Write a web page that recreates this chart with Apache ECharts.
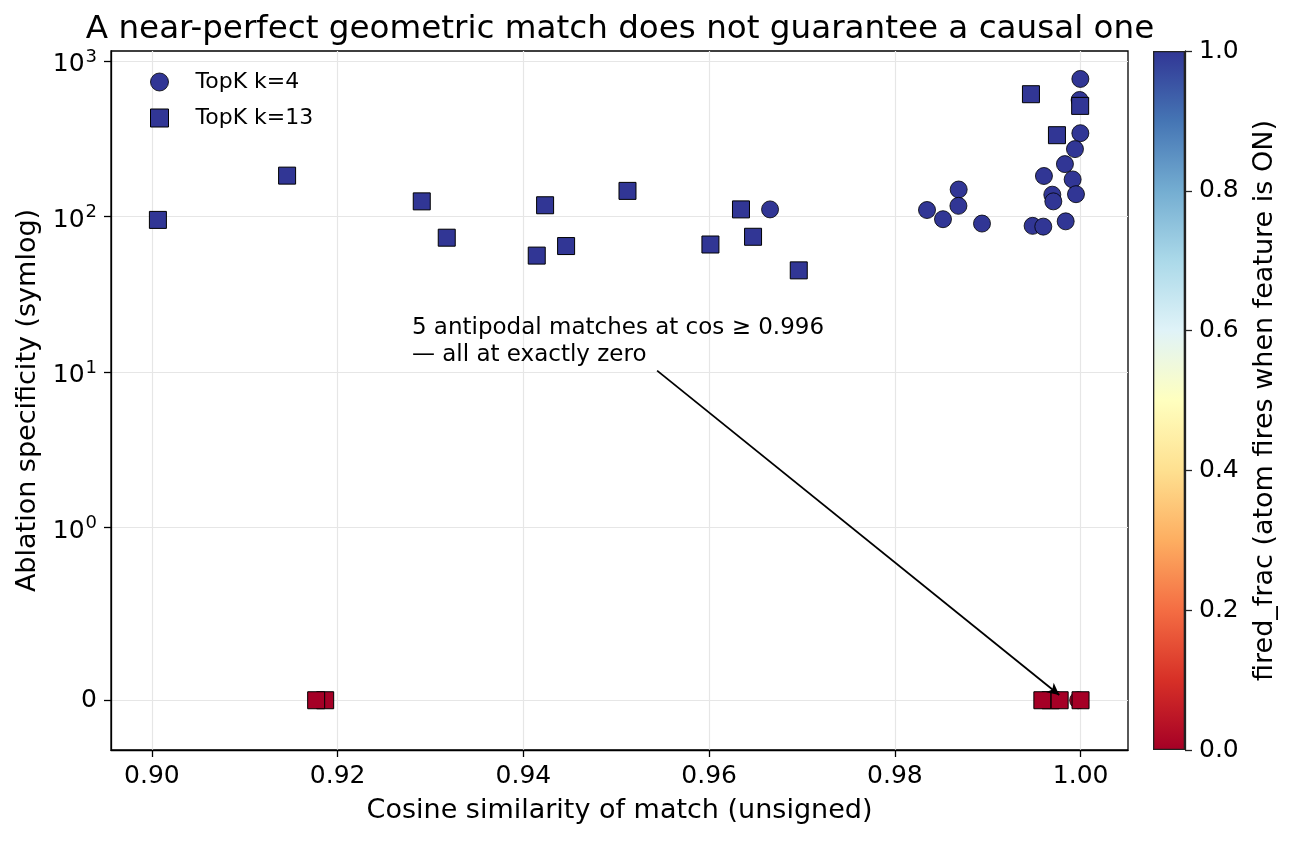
<!DOCTYPE html>
<html>
<head>
<meta charset="utf-8">
<script src="https://cdn.jsdelivr.net/npm/echarts@6/dist/echarts.min.js"></script>
<style>
  html, body { margin: 0; padding: 0; background: #fff; }
  #chart { width: 1294px; height: 841px; }
</style>
</head>
<body>
<div id="chart"></div>
<script>
// TopK k=4 matches: cosine, ablation specificity, fired_frac
var k4Cos   = [0.99997, 0.99989, 0.99997, 0.99939, 0.99831, 0.99605, 0.99914, 0.99695, 0.99706, 0.99950,
               0.98687, 0.98684, 0.98346, 0.98518, 0.98938, 0.99483, 0.99598, 0.99839, 0.96656, 0.99973];
var k4Spec  = [766, 561, 343, 271, 217, 182, 173, 138, 125, 139,
               149, 117, 110, 96, 90, 87, 86, 93, 111, 0];
var k4Fired = [1, 1, 1, 1, 1, 1, 1, 1, 1, 1,
               1, 1, 1, 1, 1, 1, 1, 1, 1, 0];

// TopK k=13 matches
var k13Cos   = [0.99465, 0.99995, 0.99745, 0.90065, 0.91456, 0.92906, 0.93175, 0.94234, 0.94144, 0.94460,
                0.95121, 0.96343, 0.96014, 0.96473, 0.96965,
                0.91866, 0.91769, 0.99677, 0.99588, 0.99774, 0.99999];
var k13Spec  = [611, 514, 333, 95, 183, 125, 73, 118, 56, 64.5,
                146, 111, 66, 74, 45,
                0, 0, 0, 0, 0, 0];
var k13Fired = [1, 1, 1, 1, 1, 1, 1, 1, 1, 1,
                1, 1, 1, 1, 1,
                0, 0, 0, 0, 0, 0];

var xTicks = [0.90, 0.92, 0.94, 0.96, 0.98, 1.00];
var yTickValues = [0, 1, 10, 100, 1000];
var yTickLabels = ['0', '{b|10}{s|0}', '{b|10}{s|1}', '{b|10}{s|2}', '{b|10}{s|3}'];
var cbarTicks = [0, 0.2, 0.4, 0.6, 0.8, 1.0];

// annotation: text anchor and arrow target (data units)
var noteText = '5 antipodal matches at cos \u2265 0.996\n\u2014 all at exactly zero';
var noteXY = [0.928, 12];
var arrowFrom = [0.9544, 10.2];
var arrowTo = [0.9977, 0.03];

var rdylbu = ['#a50026', '#d73027', '#f46d43', '#fdae61', '#fee090', '#ffffbf',
              '#e0f3f8', '#abd9e9', '#74add1', '#4575b4', '#313695'];

// matplotlib symlog, base 10, linthresh 1, linscale 1
var LINSCALE = 1 / (1 - 1 / 10);
function symlog(v) {
  var a = Math.abs(v);
  var t = a <= 1 ? a * LINSCALE : LINSCALE + Math.log10(a);
  return v < 0 ? -t : t;
}

function buildPoints(cos, spec, fired) {
  var out = [];
  for (var i = 0; i < cos.length; i++) {
    out.push([cos[i], symlog(spec[i]), fired[i]]);
  }
  return out;
}

var yTickT = yTickValues.map(symlog);
var FONT = 'DejaVu Sans';
var axisColor = '#000';

var option = {
  animation: false,
  textStyle: { fontFamily: FONT, color: '#000' },
  title: {
    text: 'A near-perfect geometric match does not guarantee a causal one',
    left: 615,
    textAlign: 'center',
    top: 8,
    textStyle: { fontFamily: FONT, fontSize: 32.6, fontWeight: 'normal', color: '#000' }
  },
  legend: {
    orient: 'vertical',
    left: 145,
    top: 66,
    itemWidth: 18,
    itemHeight: 18,
    itemGap: 14,
    textStyle: { fontSize: 22, color: '#000', padding: [0, 0, 0, 22] },
    data: [
      { name: 'TopK k=4', icon: 'circle', itemStyle: { color: '#313695', borderColor: '#000', borderWidth: 0.8 } },
      { name: 'TopK k=13', icon: 'rect', itemStyle: { color: '#313695', borderColor: '#000', borderWidth: 1 } }
    ]
  },
  visualMap: {
    type: 'continuous',
    show: false,
    min: 0,
    max: 1,
    dimension: 2,
    seriesIndex: [0, 1],
    inRange: { color: rdylbu }
  },
  grid: [
    { left: 111, right: 166, top: 51, bottom: 91, show: true, borderColor: axisColor, borderWidth: 1.3 },
    { left: 1153, width: 32, top: 51, bottom: 91 }
  ],
  xAxis: [
    {
      type: 'value',
      gridIndex: 0,
      min: 0.8956,
      max: 1.0051,
      name: 'Cosine similarity of match (unsigned)',
      nameLocation: 'middle',
      nameGap: 47,
      nameTextStyle: { fontSize: 27, color: '#000' },
      axisLine: { show: true, onZero: false, lineStyle: { color: axisColor, width: 1.3 } },
      axisTick: { show: true, length: 7, customValues: xTicks, lineStyle: { color: axisColor, width: 1.3 } },
      axisLabel: { customValues: xTicks, fontSize: 25, color: '#000', margin: 14,
                   formatter: function (v) { return v.toFixed(2); } },
      splitLine: { show: true, lineStyle: { color: '#e6e6e6', width: 1.2 } }
    },
    {
      type: 'category',
      gridIndex: 1,
      data: ['c'],
      show: false
    }
  ],
  yAxis: [
    {
      type: 'value',
      gridIndex: 0,
      min: -0.32,
      max: 4.175,
      name: 'Ablation specificity (symlog)',
      nameLocation: 'middle',
      nameGap: 64,
      nameTextStyle: { fontSize: 27, color: '#000' },
      axisLine: { show: true, onZero: false, lineStyle: { color: axisColor, width: 1.3 } },
      axisTick: { show: true, length: 7, customValues: yTickT, lineStyle: { color: axisColor, width: 1.3 } },
      axisLabel: {
        customValues: yTickT, fontSize: 25, color: '#000', margin: 14,
        rich: {
          b: { fontSize: 25, color: '#000', fontFamily: FONT, padding: [8, 0, 0, 0] },
          s: { fontSize: 18, color: '#000', fontFamily: FONT, padding: [0, 0, 8, 1] }
        },
        formatter: function (v) {
          var best = 0;
          for (var i = 1; i < yTickT.length; i++) {
            if (Math.abs(yTickT[i] - v) < Math.abs(yTickT[best] - v)) best = i;
          }
          return yTickLabels[best];
        }
      },
      splitLine: { show: true, lineStyle: { color: '#e6e6e6', width: 1.2 } }
    },
    {
      type: 'value',
      gridIndex: 1,
      position: 'right',
      min: 0,
      max: 1,
      interval: 0.2,
      name: 'fired_frac (atom fires when feature is ON)',
      nameLocation: 'middle',
      nameRotate: 90,
      nameGap: 66,
      nameTextStyle: { fontSize: 27, color: '#000' },
      axisLine: { show: true, lineStyle: { color: '#222', width: 1.3 } },
      axisTick: { show: true, length: 7, lineStyle: { color: '#222', width: 1.3 } },
      axisLabel: { fontSize: 25, color: '#000', margin: 14,
                   formatter: function (v) { return v.toFixed(1); } },
      splitLine: { show: false }
    }
  ],
  series: [
    {
      name: 'TopK k=4',
      type: 'scatter',
      xAxisIndex: 0,
      yAxisIndex: 0,
      symbol: 'circle',
      symbolSize: 17,
      itemStyle: { borderColor: '#000', borderWidth: 0.8, opacity: 1 },
      emphasis: { disabled: true },
      data: buildPoints(k4Cos, k4Spec, k4Fired),
      markLine: {
        silent: true,
        symbol: ['none', 'arrow'],
        symbolSize: [9, 12],
        label: { show: false },
        lineStyle: { color: '#000', width: 1.8, type: 'solid' },
        data: [[
          { coord: [arrowFrom[0], symlog(arrowFrom[1])] },
          { coord: [arrowTo[0], symlog(arrowTo[1])] }
        ]]
      }
    },
    {
      name: 'TopK k=13',
      type: 'scatter',
      xAxisIndex: 0,
      yAxisIndex: 0,
      symbol: 'rect',
      symbolSize: 17,
      itemStyle: { borderColor: '#000', borderWidth: 1, opacity: 1 },
      emphasis: { disabled: true },
      data: buildPoints(k13Cos, k13Spec, k13Fired)
    },
    {
      name: 'colorbar',
      type: 'bar',
      xAxisIndex: 1,
      yAxisIndex: 1,
      barWidth: '100%',
      silent: true,
      data: [1],
      itemStyle: {
        borderColor: '#222',
        borderWidth: 1.3,
        color: {
          type: 'linear', x: 0, y: 1, x2: 0, y2: 0,
          colorStops: rdylbu.map(function (c, i) { return { offset: i / (rdylbu.length - 1), color: c }; })
        }
      }
    }
  ]
};

var chart = echarts.init(document.getElementById('chart'));
chart.setOption(option);

var p = chart.convertToPixel({ gridIndex: 0 }, [noteXY[0], symlog(noteXY[1])]);
chart.setOption({
  graphic: [{
    type: 'text',
    x: p[0],
    y: p[1] + 9,
    silent: true,
    style: {
      text: noteText,
      fill: '#000',
      font: '23px "DejaVu Sans"',
      lineHeight: 27,
      align: 'left',
      verticalAlign: 'bottom'
    }
  }]
});
</script>
</body>
</html>
